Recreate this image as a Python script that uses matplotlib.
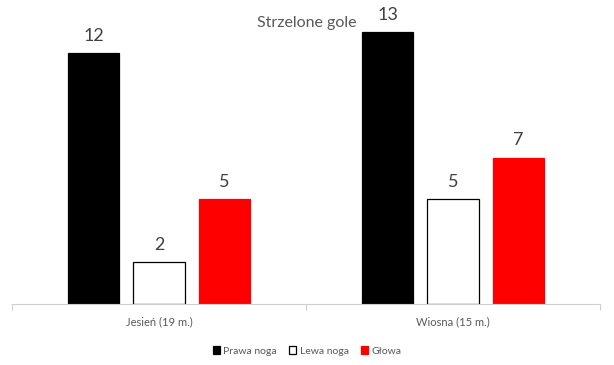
import matplotlib
matplotlib.use("Agg")
import matplotlib.pyplot as plt
import numpy as np
from matplotlib.patches import Patch

categories = ["Jesień (19 m.)", "Wiosna (15 m.)"]
series_names = ["Prawa noga", "Lewa noga", "Głowa"]
prawa = [12, 13]
lewa = [2, 5]
glowa = [5, 7]
values = [prawa, lewa, glowa]
face_colors = ["#000000", "#ffffff", "#ff0000"]
edge_colors = ["#000000", "#000000", "#ff0000"]

plt.rcParams['font.family'] = ['Lato', 'DejaVu Sans']

fig = plt.figure(figsize=(6.14, 3.65), dpi=100)
ax = fig.add_axes([12/614, 1-304/365, 588/614, (304-11.3)/365])

x = np.arange(len(categories))
width = 0.174
spacing = 0.2225
for i, (vals, fc, ec, name) in enumerate(zip(values, face_colors, edge_colors, series_names)):
    pos = x + (i-1)*spacing
    bars = ax.bar(pos, vals, width, color=fc, edgecolor=ec, linewidth=0.9, label=name)
    for p, v in zip(pos, vals):
        ax.text(p, v + 0.45, str(v), ha='center', va='bottom', fontsize=13, color='#404040')

ax.set_xlim(-0.5, 1.5)
ax.set_ylim(0, 14)
ax.set_yticks([])
for s in ['top', 'right', 'left']:
    ax.spines[s].set_visible(False)
ax.spines['bottom'].set_color('#d0d0d0')
ax.set_xticks([-0.5, 0.5, 1.5], minor=False)
ax.set_xticklabels([])
ax.tick_params(axis='x', which='major', length=4, color='#d0d0d0', direction='out')
ax.set_xticks(x, minor=True)
ax.set_xticklabels(categories, minor=True, fontsize=8, color='#595959')
ax.tick_params(axis='x', which='minor', length=0, pad=9)

fig.text(307/614, 1-23/365, "Strzelone gole", ha='center', va='center', fontsize=11.5, color='#595959')

handles = [Patch(facecolor=fc, edgecolor=ec, linewidth=0.9) for fc, ec in zip(face_colors, edge_colors)]
fig.legend(handles, series_names, loc='center', bbox_to_anchor=(307/614, 1-351/365), ncol=3,
           frameon=False, fontsize=7.5, handlelength=0.7, handleheight=0.7, handletextpad=0.3,
           columnspacing=1.2, labelcolor='#595959')

fig.savefig("out.png", dpi=100)
